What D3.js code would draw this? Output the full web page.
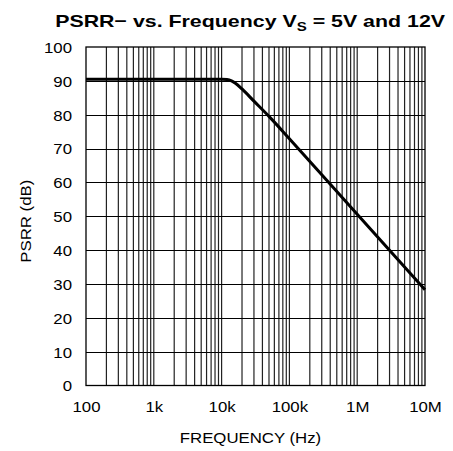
<!DOCTYPE html>
<html>
<head>
<meta charset="utf-8">
<script src="https://cdn.jsdelivr.net/npm/d3@7/dist/d3.min.js"></script>
<style>
  html, body { margin: 0; padding: 0; background: #fff; }
  svg { display: block; font-family: "Liberation Sans", Arial, sans-serif; }
</style>
</head>
<body>
<svg id="chart" width="453" height="451"></svg>
<script>
// PSRR− response (dB) against frequency (Hz)
const freqHz = [100, 1e3, 1e4, 12e3, 14e3, 16e3, 20e3, 30e3, 50e3, 100e3, 1e6, 1e7];
const psrrDb = [90.5, 90.5, 90.5, 90.4, 90.0, 89.3, 87.6, 84.0, 79.5, 72.9, 50.6, 28.3];

const xTickValues = [1e2, 1e3, 1e4, 1e5, 1e6, 1e7];
const xTickLabels = ["100", "1k", "10k", "100k", "1M", "10M"];
const yTickValues = [0, 10, 20, 30, 40, 50, 60, 70, 80, 90, 100];

const margin = { left: 86, right: 28, top: 47, bottom: 65.5 };
const W = 453, H = 451;
const textStretch = 1.12;   // wide-set lettering
const svg = d3.select("#chart");

const x = d3.scaleLog().domain([1e2, 1e7]).range([margin.left, W - margin.right]);
const y = d3.scaleLinear().domain([0, 100]).range([H - margin.bottom, margin.top]);

const g = svg.append("g");

// minor + major vertical grid (2..9 within each decade)
const vLines = [];
for (let d = 2; d < 7; d++) {
  for (let m = 1; m <= 9; m++) {
    const v = m * Math.pow(10, d);
    if (v > 1e2 && v < 1e7) vLines.push(v);
  }
}
g.selectAll("line.v").data(vLines).join("line")
  .attr("class", "v")
  .attr("x1", d => x(d)).attr("x2", d => x(d))
  .attr("y1", y(0)).attr("y2", y(100))
  .attr("stroke", "#222").attr("stroke-width", 1.2);

// horizontal grid
g.selectAll("line.h").data(yTickValues.slice(1, -1)).join("line")
  .attr("class", "h")
  .attr("x1", x(1e2)).attr("x2", x(1e7))
  .attr("y1", d => Math.round(y(d)) + 0.5).attr("y2", d => Math.round(y(d)) + 0.5)
  .attr("stroke", "#000").attr("stroke-width", 1);

// plot frame
g.append("rect")
  .attr("x", x(1e2)).attr("y", y(100))
  .attr("width", x(1e7) - x(1e2)).attr("height", y(0) - y(100))
  .attr("fill", "none").attr("stroke", "#000").attr("stroke-width", 1.3);

// response curve
const line = d3.line().x((d, i) => x(freqHz[i])).y(d => y(d)).curve(d3.curveMonotoneX);
g.append("path")
  .attr("d", line(psrrDb))
  .attr("fill", "none").attr("stroke", "#000").attr("stroke-width", 3)
  .attr("stroke-linejoin", "round");

// x tick labels
const xAxis = d3.axisBottom(x).tickValues(xTickValues)
  .tickFormat((d, i) => xTickLabels[i]).tickSize(0).tickPadding(0);
const xa = svg.append("g").attr("transform", `translate(0,${y(0)})`).call(xAxis);
xa.select(".domain").remove();
xa.selectAll("text").attr("font-size", 15).attr("fill", "#000")
  .attr("font-family", "Liberation Sans, Arial, sans-serif")
  .attr("dy", null).attr("y", 27)
  .attr("transform", `scale(${textStretch},1)`);

// y tick labels
const yAxis = d3.axisLeft(y).tickValues(yTickValues).tickSize(0).tickPadding(0);
const ya = svg.append("g").attr("transform", `translate(${margin.left - 14},0)`).call(yAxis);
ya.select(".domain").remove();
ya.selectAll("text").attr("font-size", 15).attr("fill", "#000")
  .attr("font-family", "Liberation Sans, Arial, sans-serif")
  .attr("dy", "0.36em")
  .attr("transform", `scale(${textStretch},1)`);

// axis titles
svg.append("text")
  .attr("transform", `translate(250.5,443) scale(${textStretch},1)`)
  .attr("text-anchor", "middle").attr("font-size", 15)
  .text("FREQUENCY (Hz)");

svg.append("text")
  .attr("transform", `translate(31,${(y(0) + y(100)) / 2 + 5}) rotate(-90) scale(${textStretch},1)`)
  .attr("text-anchor", "middle").attr("font-size", 15)
  .text("PSRR (dB)");

// chart title with subscript, stretched to span 55..446
const title = svg.append("text")
  .attr("x", 0).attr("y", 0)
  .attr("text-anchor", "middle").attr("font-size", 17).attr("font-weight", "bold");
title.append("tspan").text("PSRR\u2212 vs. Frequency V");
title.append("tspan").attr("font-size", 12).attr("dy", 4).text("S");
title.append("tspan").attr("dy", -4).text(" = 5V and 12V");
const tb = title.node().getBBox();
const tScale = 391 / tb.width;
title.attr("transform", `translate(${250.5 - (tb.x + tb.width / 2) * tScale},27) scale(${tScale},1)`);
</script>
</body>
</html>
